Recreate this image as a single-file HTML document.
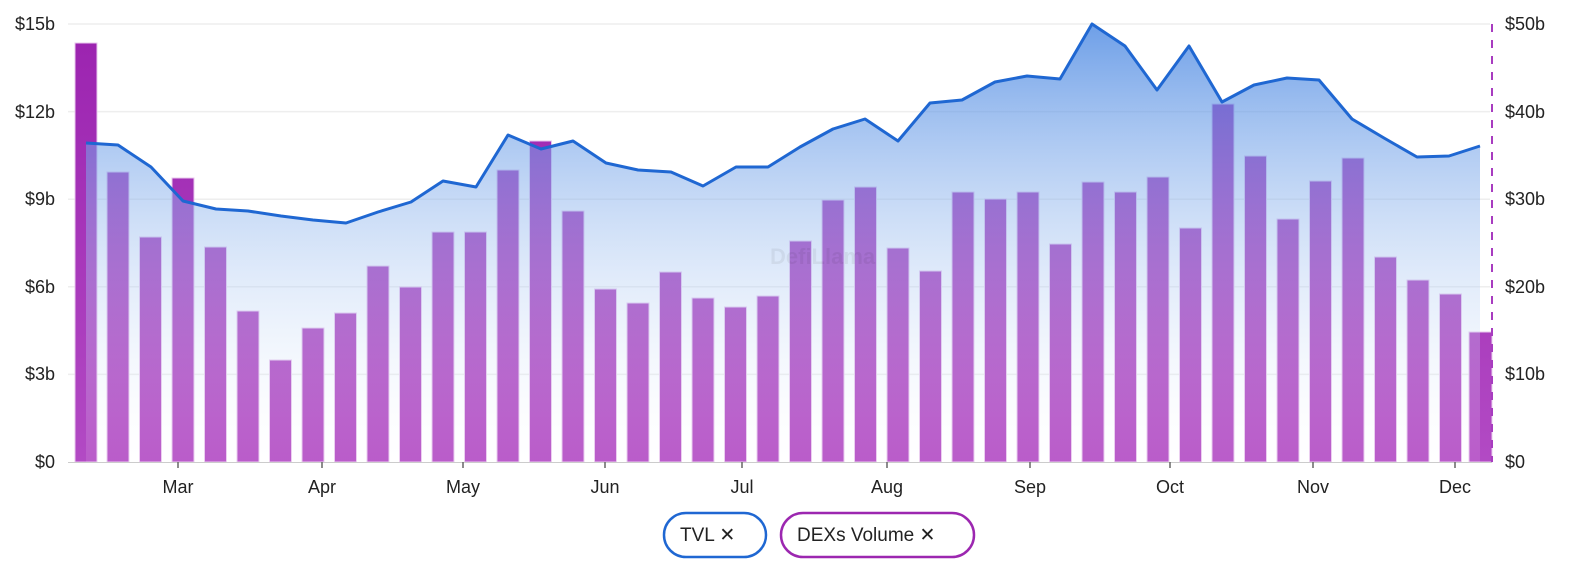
<!DOCTYPE html>
<html><head><meta charset="utf-8"><style>
body{margin:0;background:#fff;}
svg text{font-family:"Liberation Sans",sans-serif;}
</style></head><body>
<svg width="1591" height="578" viewBox="0 0 1591 578" xmlns="http://www.w3.org/2000/svg">
<defs>
<linearGradient id="ar" x1="0" y1="0" x2="0" y2="1">
<stop offset="0" stop-color="#3d7fe0" stop-opacity="0.75"/>
<stop offset="1" stop-color="#ffffff" stop-opacity="0.1"/>
</linearGradient>
<linearGradient id="bg" gradientUnits="userSpaceOnUse" x1="0" y1="40" x2="0" y2="462">
<stop offset="0" stop-color="#9c24b0"/>
<stop offset="1" stop-color="#b24ac4"/>
</linearGradient>
</defs>
<g stroke="#eeeeee" stroke-width="1.5">
<line x1="68" y1="24" x2="1490" y2="24"/><line x1="68" y1="111.6" x2="1490" y2="111.6"/>
<line x1="68" y1="199.2" x2="1490" y2="199.2"/><line x1="68" y1="286.8" x2="1490" y2="286.8"/>
<line x1="68" y1="374.4" x2="1490" y2="374.4"/>
</g>
<g font-size="18" fill="#222" text-anchor="end">
<text x="55" y="30">$15b</text><text x="55" y="118">$12b</text><text x="55" y="205">$9b</text>
<text x="55" y="293">$6b</text><text x="55" y="380">$3b</text><text x="55" y="468">$0</text>
</g>
<g font-size="18" fill="#222">
<text x="1505" y="30">$50b</text><text x="1505" y="118">$40b</text><text x="1505" y="205">$30b</text>
<text x="1505" y="293">$20b</text><text x="1505" y="380">$10b</text><text x="1505" y="468">$0</text>
</g>
<g fill="url(#bg)" stroke="#e9c8ee" stroke-width="1">
<rect x="75" y="43" width="22" height="419"/>
<rect x="107" y="172" width="22" height="290"/>
<rect x="139.5" y="237" width="22" height="225"/>
<rect x="172" y="178" width="22" height="284"/>
<rect x="204.5" y="247" width="22" height="215"/>
<rect x="237" y="311" width="22" height="151"/>
<rect x="269.5" y="360" width="22" height="102"/>
<rect x="302" y="328" width="22" height="134"/>
<rect x="334.5" y="313" width="22" height="149"/>
<rect x="367" y="266" width="22" height="196"/>
<rect x="399.5" y="287" width="22" height="175"/>
<rect x="432" y="232" width="22" height="230"/>
<rect x="464.5" y="232" width="22" height="230"/>
<rect x="497" y="170" width="22" height="292"/>
<rect x="529.5" y="141" width="22" height="321"/>
<rect x="562" y="211" width="22" height="251"/>
<rect x="594.5" y="289" width="22" height="173"/>
<rect x="627" y="303" width="22" height="159"/>
<rect x="659.5" y="272" width="22" height="190"/>
<rect x="692" y="298" width="22" height="164"/>
<rect x="724.5" y="307" width="22" height="155"/>
<rect x="757" y="296" width="22" height="166"/>
<rect x="789.5" y="241" width="22" height="221"/>
<rect x="822" y="200" width="22" height="262"/>
<rect x="854.5" y="187" width="22" height="275"/>
<rect x="887" y="248" width="22" height="214"/>
<rect x="919.5" y="271" width="22" height="191"/>
<rect x="952" y="192" width="22" height="270"/>
<rect x="984.5" y="199" width="22" height="263"/>
<rect x="1017" y="192" width="22" height="270"/>
<rect x="1049.5" y="244" width="22" height="218"/>
<rect x="1082" y="182" width="22" height="280"/>
<rect x="1114.5" y="192" width="22" height="270"/>
<rect x="1147" y="177" width="22" height="285"/>
<rect x="1179.5" y="228" width="22" height="234"/>
<rect x="1212" y="104" width="22" height="358"/>
<rect x="1244.5" y="156" width="22" height="306"/>
<rect x="1277" y="219" width="22" height="243"/>
<rect x="1309.5" y="181" width="22" height="281"/>
<rect x="1342" y="158" width="22" height="304"/>
<rect x="1374.5" y="257" width="22" height="205"/>
<rect x="1407" y="280" width="22" height="182"/>
<rect x="1439.5" y="294" width="22" height="168"/>
<rect x="1469" y="332" width="23" height="130"/>
</g>
<path fill="url(#ar)" d="M86,143 L118,145 L151,167 L183,201 L216,209 L248,211 L281,216 L313,220 L346,223 L378,212 L411,202 L443,181 L476,187 L508,135 L541,149 L573,141 L606,163 L638,170 L671,172 L703,186 L736,167 L768,167 L800,147 L833,129 L865,119 L898,141 L930,103 L962,100 L995,82 L1027,76 L1060,79 L1092,24 L1125,46 L1157,90 L1189,46 L1222,102 L1254,85 L1287,78 L1319,80 L1352,119 L1384,138 L1417,157 L1449,156 L1480,146 L1480,462 L86,462 Z"/>
<text x="770" y="264" font-size="22" font-weight="bold" fill="#000" fill-opacity="0.06">DefiLlama</text>
<path fill="none" stroke="#1f67d2" stroke-width="3" stroke-linejoin="round" d="M86,143 L118,145 L151,167 L183,201 L216,209 L248,211 L281,216 L313,220 L346,223 L378,212 L411,202 L443,181 L476,187 L508,135 L541,149 L573,141 L606,163 L638,170 L671,172 L703,186 L736,167 L768,167 L800,147 L833,129 L865,119 L898,141 L930,103 L962,100 L995,82 L1027,76 L1060,79 L1092,24 L1125,46 L1157,90 L1189,46 L1222,102 L1254,85 L1287,78 L1319,80 L1352,119 L1384,138 L1417,157 L1449,156 L1480,146"/>
<line x1="1492" y1="24" x2="1492" y2="462" stroke="#a83cc0" stroke-width="2" stroke-dasharray="8,8"/>
<line x1="68" y1="462.5" x2="1492" y2="462.5" stroke="#ccc" stroke-width="1"/>
<g stroke="#666" stroke-width="1.5">
<line x1="178" y1="462" x2="178" y2="468"/><line x1="322" y1="462" x2="322" y2="468"/><line x1="463" y1="462" x2="463" y2="468"/>
<line x1="605" y1="462" x2="605" y2="468"/><line x1="742" y1="462" x2="742" y2="468"/><line x1="887" y1="462" x2="887" y2="468"/>
<line x1="1030" y1="462" x2="1030" y2="468"/><line x1="1170" y1="462" x2="1170" y2="468"/><line x1="1313" y1="462" x2="1313" y2="468"/>
<line x1="1455" y1="462" x2="1455" y2="468"/>
</g>
<g font-size="18" fill="#222" text-anchor="middle">
<text x="178" y="493">Mar</text><text x="322" y="493">Apr</text><text x="463" y="493">May</text><text x="605" y="493">Jun</text>
<text x="742" y="493">Jul</text><text x="887" y="493">Aug</text><text x="1030" y="493">Sep</text><text x="1170" y="493">Oct</text>
<text x="1313" y="493">Nov</text><text x="1455" y="493">Dec</text>
</g>
<rect x="664" y="513" width="102" height="44" rx="22" fill="#fff" stroke="#1f67d2" stroke-width="2.5"/>
<text x="680" y="541" font-size="19" fill="#222">TVL ✕</text>
<rect x="781" y="513" width="193" height="44" rx="22" fill="#fff" stroke="#9c27b0" stroke-width="2.5"/>
<text x="797" y="541" font-size="19" fill="#222">DEXs Volume ✕</text>
</svg>
</body></html>
